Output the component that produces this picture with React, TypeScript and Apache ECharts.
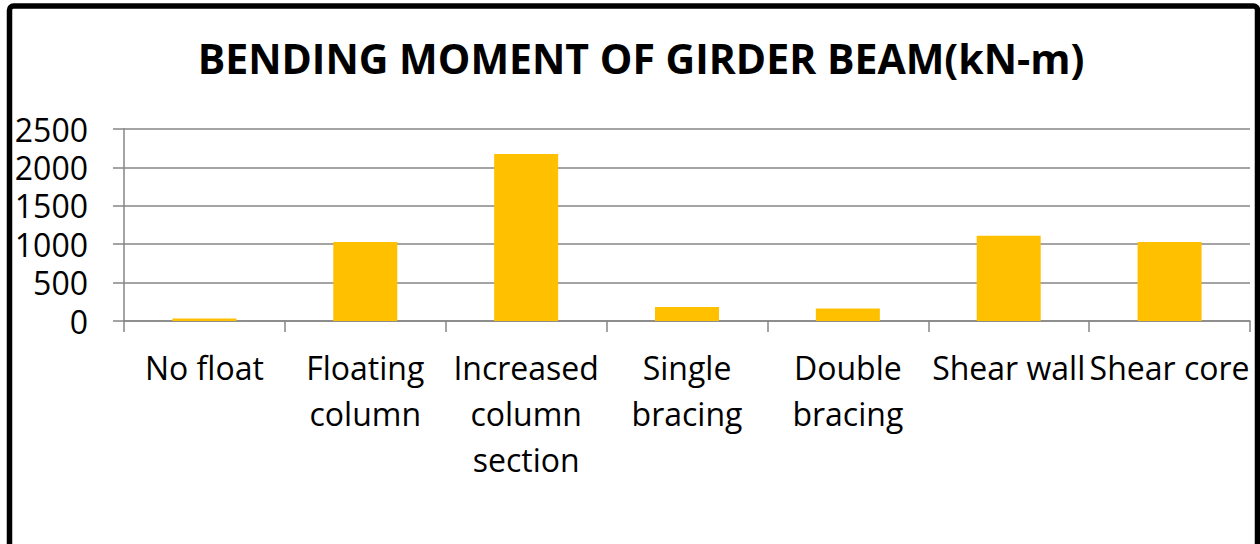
import React, { useEffect, useRef } from "react";
import * as echarts from "echarts";

const titleText = "BENDING MOMENT OF GIRDER BEAM(kN-m)";
const categories = [
  "No float",
  "Floating\ncolumn",
  "Increased\ncolumn\nsection",
  "Single\nbracing",
  "Double\nbracing",
  "Shear wall",
  "Shear core",
];
const moments = [31, 1030, 2173, 183, 162, 1110, 1028];
const yTicks = { min: 0, max: 2500, interval: 500 };

export default function App() {
  const ref = useRef<HTMLDivElement>(null);
  useEffect(() => {
    document.body.style.margin = "0";
    const chart = echarts.init(ref.current!, undefined, { renderer: "svg" });
    chart.setOption({
      animation: false,
      backgroundColor: "#ffffff",
      title: {
        text: titleText,
        left: 636,
        textAlign: "center",
        top: 32,
        textStyle: {
          fontFamily: "Open Sans",
          fontWeight: "bold",
          fontSize: 41,
          lineHeight: 41,
          color: "#000000",
        },
      },
      graphic: [
        {
          type: "rect",
          shape: { x: 9.5, y: 6, width: 1248, height: 560, r: 4 },
          style: { fill: "none", stroke: "#000000", lineWidth: 5.5 },
          z: 100,
        },
      ],
      grid: { left: 124, right: 10, top: 129, bottom: 223 },
      xAxis: {
        type: "category",
        data: categories,
        axisLine: { lineStyle: { color: "#868686", width: 1.5 } },
        axisTick: { show: true, length: 11, lineStyle: { color: "#868686", width: 1.5 } },
        axisLabel: {
          interval: 0,
          margin: 23,
          fontFamily: "Open Sans",
          fontSize: 32,
          lineHeight: 46,
          color: "#000000",
        },
      },
      yAxis: {
        type: "value",
        min: yTicks.min,
        max: yTicks.max,
        interval: yTicks.interval,
        axisLine: { show: true, lineStyle: { color: "#868686", width: 1.5 } },
        axisTick: { show: true, length: 11, lineStyle: { color: "#868686", width: 1.5 } },
        splitLine: { show: true, lineStyle: { color: "#868686", width: 1.5 } },
        axisLabel: {
          margin: 36,
          fontFamily: "Open Sans",
          fontSize: 32,
          lineHeight: 32,
          color: "#000000",
          formatter: (v: number) => String(v),
        },
      },
      series: [
        {
          type: "bar",
          data: moments,
          barWidth: 64,
          itemStyle: { color: "#FFC000" },
        },
      ],
    });
    return () => chart.dispose();
  }, []);
  return <div ref={ref} style={{ width: 1260, height: 544 }} />;
}
